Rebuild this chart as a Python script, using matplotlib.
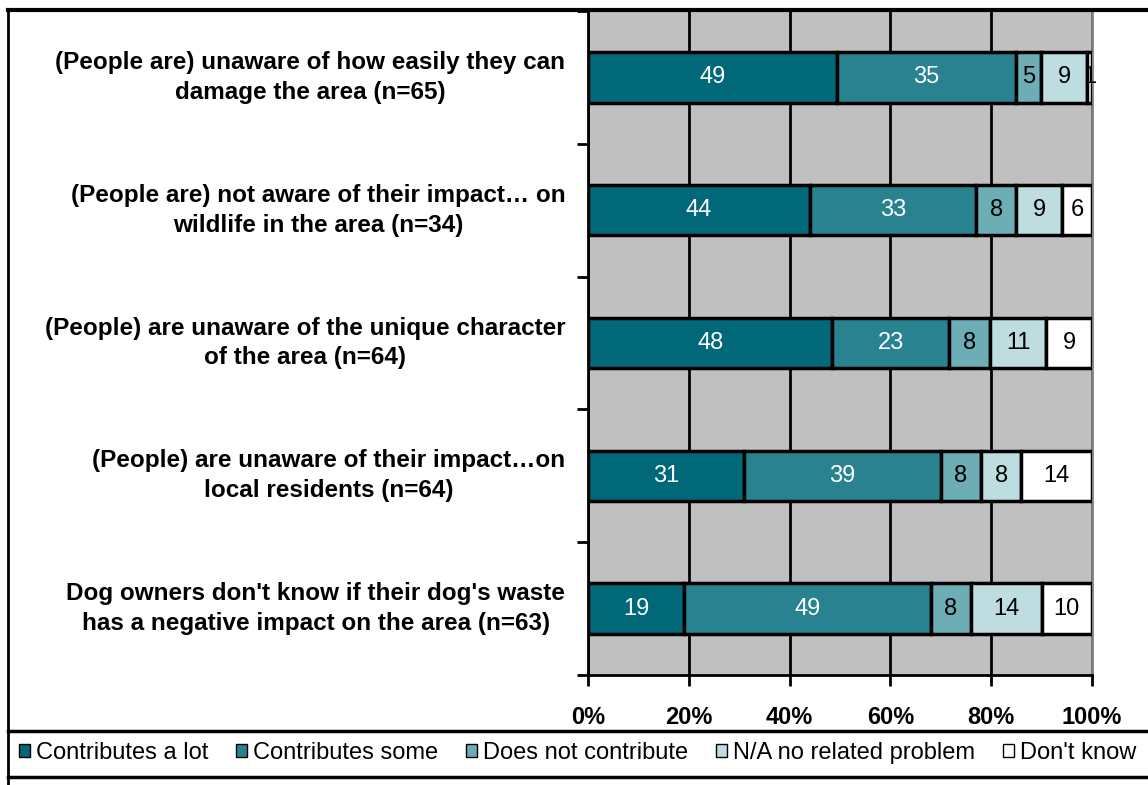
import numpy as np
import matplotlib.pyplot as plt
from matplotlib.patches import Patch
from matplotlib.lines import Line2D

plt.rcParams['font.family'] = ['Liberation Sans', 'DejaVu Sans']

statements = [
    "(People are) unaware of how easily they can\ndamage the area (n=65)",
    "(People are) not aware of their impact\u2026 on\nwildlife in the area (n=34)",
    "(People) are unaware of the unique character\nof the area (n=64)",
    "(People) are unaware of their impact\u2026on\nlocal residents (n=64)",
    "Dog owners don't know if their dog's waste\nhas a negative impact on the area (n=63)",
]
series = ["Contributes a lot", "Contributes some", "Does not contribute",
          "N/A no related problem", "Don't know"]
lot = [49, 44, 48, 31, 19]
some = [35, 33, 23, 39, 49]
not_contrib = [5, 8, 8, 8, 8]
na = [9, 9, 11, 8, 14]
dont_know = [1, 6, 9, 14, 10]
tick_labels = ["0%", "20%", "40%", "60%", "80%", "100%"]

colors = ["#006878", "#288290", "#6cadb6", "#bedde0", "#ffffff"]
text_colors = ["white", "white", "black", "black", "black"]

vals = np.array([lot, some, not_contrib, na, dont_know], dtype=float)
pct = vals / vals.sum(axis=0) * 100

fig = plt.figure(figsize=(11.48, 7.85), dpi=100)
ax = fig.add_axes([588/1148, 1-675/785, (1092-588)/1148, (675-11)/785])
ax.set_facecolor("#c0c0c0")

y = np.arange(len(statements))
left = np.zeros(len(statements))
for i in range(len(series)):
    bars = ax.barh(y, pct[i], left=left, height=0.38, color=colors[i],
                   edgecolor="black", linewidth=2.5, label=series[i], zorder=3)
    ax.bar_label(bars, labels=[str(int(v)) for v in vals[i]], label_type="center",
                 color=text_colors[i], fontsize=17)
    left += pct[i]

ax.set_xlim(0, 100)
ax.set_ylim(len(statements)-0.5, -0.5)
ax.set_xticks(np.arange(0, 101, 20))
ax.set_xticklabels(tick_labels, fontsize=17, fontweight="bold")
ax.set_yticks(np.arange(len(statements)+1) - 0.5)
ax.set_yticklabels([])
ax.tick_params(axis="both", direction="out", length=8, width=2, color="black")
ax.tick_params(axis="x", pad=14)
ax.grid(axis="x", color="black", linewidth=2, zorder=1)
ax.set_axisbelow(True)
ax.spines["left"].set_linewidth(2)
ax.spines["bottom"].set_linewidth(2)
ax.spines["right"].set_color("#808080")
ax.spines["right"].set_linewidth(2)
ax.spines["top"].set_visible(False)

for i, s in enumerate(statements):
    ax.text(-0.045, i, s, transform=ax.get_yaxis_transform(), ha="right", va="center",
            multialignment="center", fontsize=17.5, fontweight="bold", linespacing=1.38)

# chart area border (cropped) and legend box
fig.add_artist(Line2D([8/1148, 1], [1-10/785, 1-10/785], color="black", lw=3))
fig.add_artist(Line2D([8/1148, 8/1148], [0, 1-10/785], color="black", lw=2))
fig.add_artist(Line2D([8/1148, 1], [1-731/785, 1-731/785], color="black", lw=2.5))
fig.add_artist(Line2D([8/1148, 1], [1-777/785, 1-777/785], color="black", lw=2.5))

handles = [Patch(facecolor=c, edgecolor="black", linewidth=1) for c in colors]
fig.legend(handles, series, loc="center", bbox_to_anchor=(0.503, 1-753/785), ncol=5,
           frameon=False, fontsize=17, handlelength=0.45, handleheight=0.45,
           handletextpad=0.25, columnspacing=1.2, borderaxespad=0)

fig.savefig("out.png", dpi=100)
